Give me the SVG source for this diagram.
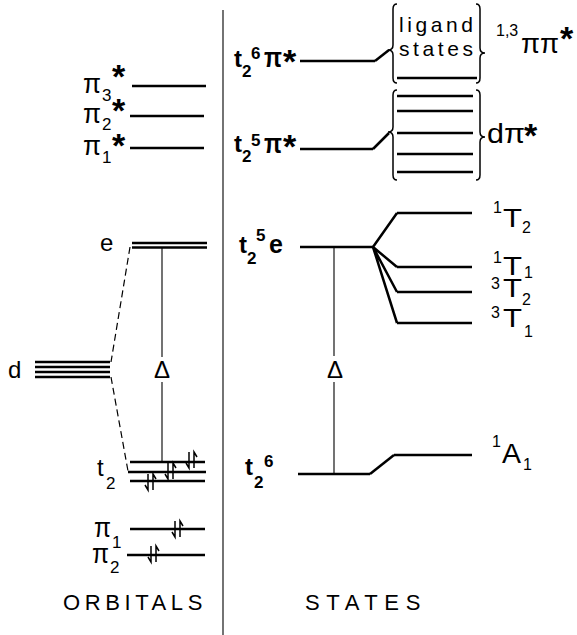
<svg xmlns="http://www.w3.org/2000/svg" width="577" height="635" viewBox="0 0 577 635">
<style>
.lv{stroke:#000;stroke-width:2.5;fill:none}
.thin{stroke:#000;stroke-width:1.1;fill:none}
.dash{stroke:#000;stroke-width:1.2;fill:none;stroke-dasharray:7 4}
.br{stroke:#000;stroke-width:1.5;fill:none}
text{font-family:"Liberation Sans",Arial,sans-serif;fill:#000}
.b{font-weight:bold}
.m{font-size:24px}
.s{font-size:17px}
.ss{font-size:16px}
.pi{font-size:27px}
.st{font-size:34px;font-weight:bold}
.big{font-size:25px}
.lig{font-size:21px;letter-spacing:3.6px}
.ttl{font-size:22px}
</style>
<defs>
<g id="pair" stroke="#000" stroke-width="1.5" fill="none">
<path d="M-3,-8 V8 L-6,3"/>
<path d="M2,8 V-8 L5,-3"/>
</g>
</defs>
<rect width="577" height="635" fill="#fff"/>
<line class="thin" x1="223" y1="10" x2="223" y2="635"/>

<!-- ORBITALS column -->
<g id="pi3star">
<line class="lv" x1="132" y1="86" x2="206" y2="86"/>
<text class="pi" x="83" y="93" textLength="18" lengthAdjust="spacingAndGlyphs">π</text><text class="s" x="102" y="101">3</text><text class="st" x="112" y="88">*</text>
</g>
<g id="pi2star">
<line class="lv" x1="130" y1="116" x2="204" y2="116"/>
<text class="pi" x="83" y="123" textLength="18" lengthAdjust="spacingAndGlyphs">π</text><text class="s" x="102" y="130">2</text><text class="st" x="112" y="122">*</text>
</g>
<g id="pi1star">
<line class="lv" x1="130" y1="148" x2="204" y2="148"/>
<text class="pi" x="83" y="155" textLength="18" lengthAdjust="spacingAndGlyphs">π</text><text class="s" x="102" y="163">1</text><text class="st" x="112" y="157">*</text>
</g>
<g id="e-orb">
<line class="lv" x1="132" y1="243" x2="207" y2="243" stroke-width="2"/>
<line class="lv" x1="132" y1="247.5" x2="207" y2="247.5" stroke-width="2"/>
<text class="m" x="100" y="251">e</text>
</g>
<g id="d-orb">
<line class="lv" x1="35" y1="362" x2="110" y2="362"/>
<line class="lv" x1="35" y1="367" x2="110" y2="367"/>
<line class="lv" x1="35" y1="372" x2="110" y2="372"/>
<line class="lv" x1="35" y1="377" x2="110" y2="377"/>
<text class="m" x="8" y="378">d</text>
</g>
<g id="t2-orb">
<line class="lv" x1="130" y1="462" x2="205" y2="462"/>
<line class="lv" x1="128" y1="472" x2="206" y2="472"/>
<line class="lv" x1="130" y1="481" x2="205" y2="481"/>
<use href="#pair" x="192" y="460"/>
<use href="#pair" x="171" y="471"/>
<use href="#pair" x="151" y="482"/>
<text class="m" x="97" y="476">t</text><text class="s" x="106" y="489">2</text>
</g>
<g id="pi1-orb">
<line class="lv" x1="130" y1="529" x2="205" y2="529"/>
<use href="#pair" x="178" y="529"/>
<text class="pi" x="94" y="537" textLength="17" lengthAdjust="spacingAndGlyphs">π</text><text class="s" x="112" y="548">1</text>
</g>
<g id="pi2-orb">
<line class="lv" x1="127" y1="555" x2="205" y2="555"/>
<use href="#pair" x="154" y="554"/>
<text class="pi" x="92" y="563" textLength="17" lengthAdjust="spacingAndGlyphs">π</text><text class="s" x="110" y="573">2</text>
</g>
<g id="delta-orb">
<text class="m" x="154" y="378">Δ</text>
</g>
<text class="ttl" x="63" y="610" letter-spacing="4.6">ORBITALS</text>

<!-- STATES column -->
<g id="t26pistar">
<line class="lv" x1="300" y1="61" x2="375" y2="61"/>
<text class="m b" x="234" y="67">t</text><text class="s b" x="242" y="77">2</text><text class="s b" x="251" y="59">6</text><text class="pi b" x="264" y="67" textLength="18" lengthAdjust="spacingAndGlyphs">π</text><text class="st" x="283" y="73">*</text>
</g>
<g id="ligand">
<path class="br" d="M397 4 Q393 4 393 9 L393 45 Q393 50 388 50 Q393 50 393 55 L393 78 Q393 83 397 83"/>
<path class="br" d="M476 4 Q480 4 480 9 L480 48 Q480 53 485 53 Q480 53 480 58 L480 78 Q480 83 476 83"/>
<text class="lig" x="399" y="31.5">ligand</text>
<text class="lig" x="399" y="55.5">states</text>
<line class="lv" x1="397" y1="78" x2="477" y2="78"/>
<text class="ss" x="496" y="36">1,3</text><text class="pi" x="521" y="53" textLength="38" lengthAdjust="spacingAndGlyphs">ππ</text><text class="st" x="560" y="50">*</text>
</g>
<g id="t25pistar">
<line class="lv" x1="300" y1="149" x2="373" y2="149"/>
<text class="m b" x="234" y="152">t</text><text class="s b" x="242" y="162">2</text><text class="s b" x="251" y="146">5</text><text class="pi b" x="264" y="153" textLength="18" lengthAdjust="spacingAndGlyphs">π</text><text class="st" x="283" y="158">*</text>
</g>
<g id="dpistar">
<path class="br" d="M397 90 Q393 90 393 95 L393 127 Q393 132 388 132 Q393 132 393 137 L393 175 Q393 180 397 180"/>
<path class="br" d="M476 90 Q480 90 480 95 L480 132 Q480 137 485 137 Q480 137 480 142 L480 175 Q480 180 476 180"/>
<line class="lv" x1="397" y1="96" x2="473" y2="96"/>
<line class="lv" x1="397" y1="111" x2="473" y2="111"/>
<line class="lv" x1="397" y1="133" x2="473" y2="133"/>
<line class="lv" x1="397" y1="154" x2="473" y2="154"/>
<line class="lv" x1="397" y1="172" x2="473" y2="172"/>
<text class="pi" x="487" y="143" textLength="38" lengthAdjust="spacingAndGlyphs">dπ</text><text class="st" x="524" y="147">*</text>
</g>
<g id="t25e">
<line class="lv" x1="300" y1="247" x2="373" y2="247"/>
<text class="m b" x="239" y="253">t</text><text class="s b" x="247" y="264">2</text><text class="s b" x="256" y="241">5</text><text class="big b" x="269" y="253">e</text>
</g>
<g id="T2-1">
<line class="lv" x1="397" y1="213" x2="472" y2="213"/>
<text class="ss" x="493" y="213">1</text><text class="big" x="503" y="227" textLength="19" lengthAdjust="spacingAndGlyphs">T</text><text class="ss" x="522" y="233">2</text>
</g>
<g id="T1-1">
<line class="lv" x1="397" y1="267" x2="472" y2="267"/>
<text class="ss" x="493" y="263">1</text><text class="big" x="503" y="275" textLength="19" lengthAdjust="spacingAndGlyphs">T</text><text class="ss" x="524" y="278">1</text>
</g>
<g id="T2-3">
<line class="lv" x1="397" y1="292" x2="472" y2="292"/>
<text class="ss" x="491" y="289">3</text><text class="big" x="503" y="297" textLength="19" lengthAdjust="spacingAndGlyphs">T</text><text class="ss" x="522" y="305">2</text>
</g>
<g id="T1-3">
<line class="lv" x1="397" y1="323" x2="472" y2="323"/>
<text class="ss" x="491" y="318">3</text><text class="big" x="503" y="327" textLength="19" lengthAdjust="spacingAndGlyphs">T</text><text class="ss" x="524" y="337">1</text>
</g>
<g id="t26">
<line class="lv" x1="298" y1="474" x2="370" y2="474"/>
<text class="m b" x="245" y="475">t</text><text class="s b" x="254" y="488">2</text><text class="s b" x="264" y="467">6</text>
</g>
<g id="A1-1">
<line class="lv" x1="394" y1="455" x2="472" y2="455"/>
<text class="ss" x="492" y="447">1</text><text class="pi" x="502" y="463" textLength="19" lengthAdjust="spacingAndGlyphs">A</text><text class="ss" x="523" y="470">1</text>
</g>
<g id="delta-st">
<text class="m" x="327" y="378">Δ</text>
</g>
<text class="ttl" x="305" y="610" letter-spacing="6.6">STATES</text>

<g id="connectors">
<path class="dash" d="M130 247 L111 362"/>
<path class="dash" d="M111 377 L128 471"/>
<path class="thin" d="M162 248 V357 M162 382 V462"/>
<path class="thin" d="M334 248 V356 M334 382 V474"/>
<path class="lv" stroke-width="1.8" d="M375 61 L389 50"/>
<path class="lv" stroke-width="1.8" d="M373 149 L389 133"/>
<path class="lv" stroke-width="1.5" d="M373 247 L397 213 M373 247 L397 267 M373 247 L397 292 M373 247 L397 323"/>
<path class="lv" stroke-width="1.8" d="M370 474 L394 455"/>
</g>
</svg>
